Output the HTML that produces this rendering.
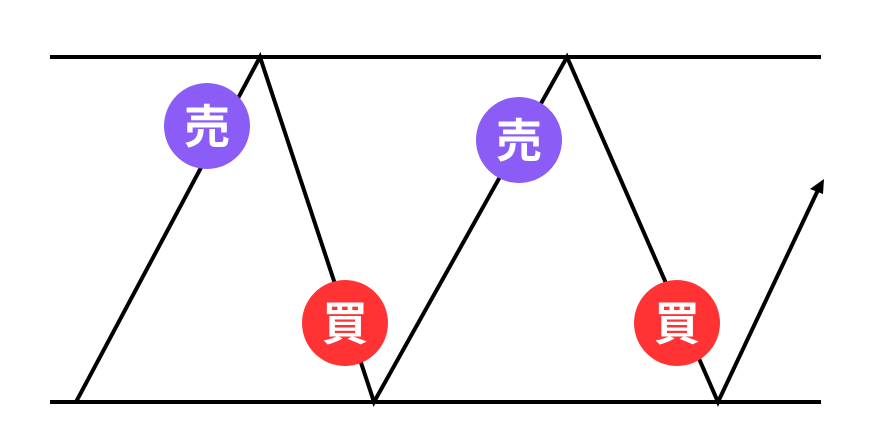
<!DOCTYPE html>
<html><head><meta charset="utf-8"><style>body{margin:0;background:#fff}</style></head>
<body>
<svg width="886" height="436" xmlns="http://www.w3.org/2000/svg">
<line x1="50" y1="57" x2="821" y2="57" stroke="#000" stroke-width="4"/>
<line x1="50" y1="402" x2="821" y2="402" stroke="#000" stroke-width="4"/>
<polyline points="76,402 260,57 374,402 567,57 718,402 818,190" fill="none" stroke="#000" stroke-width="4" stroke-linejoin="miter"/>
<polygon points="824,179 810,189 823,194" fill="#000"/>
<g font-family="Liberation Sans, Noto Sans CJK JP, sans-serif" font-weight="bold" font-size="46" fill="#fff" text-anchor="middle">
<circle cx="207" cy="126" r="43" fill="#8B5CF6"/><text x="207" y="143">売</text>
<circle cx="519" cy="140" r="43" fill="#8B5CF6"/><text x="519" y="157">売</text>
<circle cx="345" cy="323" r="43" fill="#FF3333"/><text x="345" y="340">買</text>
<circle cx="677" cy="323" r="43" fill="#FF3333"/><text x="677" y="340">買</text>
</g>
</svg>
</body></html>
